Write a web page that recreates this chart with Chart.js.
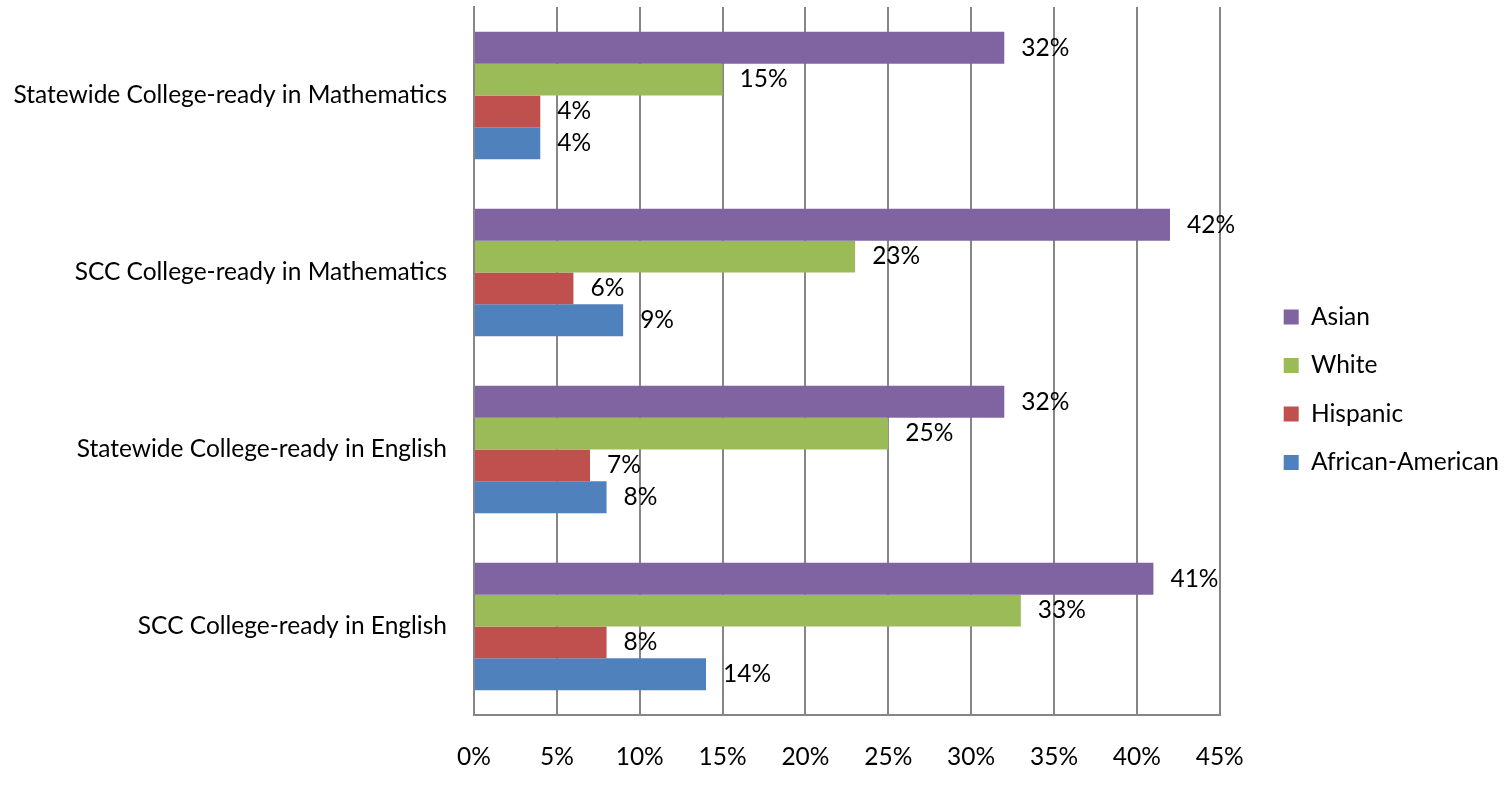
<!DOCTYPE html>
<html>
<head>
<meta charset="utf-8">
<script src="https://cdn.jsdelivr.net/npm/chart.js@4/dist/chart.umd.min.js"></script>
<style>
  html, body { margin: 0; padding: 0; background: #fff; }
  #wrap { width: 1510px; height: 800px; }
</style>
</head>
<body>
<div id="wrap"><canvas id="chart"></canvas></div>
<script>
// Categories, top to bottom
const categories = [
  "Statewide College-ready in Mathematics",
  "SCC College-ready in Mathematics",
  "Statewide College-ready in English",
  "SCC College-ready in English"
];

// Series values (percent)
const asian    = [32, 42, 32, 41];
const white    = [15, 23, 25, 33];
const hispanic = [4, 6, 7, 8];
const africanAmerican = [4, 9, 8, 14];

const seriesNames = ["Asian", "White", "Hispanic", "African-American"];
const tickLabels = ["0%", "5%", "10%", "15%", "20%", "25%", "30%", "35%", "40%", "45%"];

const FS = 24.5;
const FONT = "Lato, 'Open Sans', sans-serif";
const GRID = '#868686';

// etiquetas de valor a la derecha de cada barra
const valueLabels = {
  id: 'valueLabels',
  afterDatasetsDraw(chart) {
    const ctx = chart.ctx;
    ctx.save();
    ctx.font = FS + 'px ' + FONT;
    ctx.fillStyle = '#000';
    ctx.textAlign = 'left';
    ctx.textBaseline = 'middle';
    chart.data.datasets.forEach((ds, i) => {
      chart.getDatasetMeta(i).data.forEach((bar, j) => {
        ctx.fillText(ds.data[j] + '%', bar.x + 17, bar.y);
      });
    });
    ctx.restore();
  }
};

const ctx = document.getElementById('chart').getContext('2d');
new Chart(ctx, {
  type: 'bar',
  data: {
    labels: categories,
    datasets: [
      { label: seriesNames[0], data: asian, backgroundColor: '#8064A2' },
      { label: seriesNames[1], data: white, backgroundColor: '#9BBB59' },
      { label: seriesNames[2], data: hispanic, backgroundColor: '#C0504D' },
      { label: seriesNames[3], data: africanAmerican, backgroundColor: '#4F81BD' }
    ]
  },
  options: {
    indexAxis: 'y',
    responsive: true,
    maintainAspectRatio: false,
    animation: false,
    layout: { padding: { top: 7, bottom: 27.5, left: 0, right: 1 } },
    datasets: { bar: { categoryPercentage: 0.72, barPercentage: 1.0 } },
    plugins: {
      tooltip: { enabled: false },
      legend: {
        position: 'right',
        labels: {
          boxWidth: 15,
          boxHeight: 15,
          padding: 24,
          color: '#000',
          font: { family: FONT, size: FS }
        }
      }
    },
    scales: {
      x: {
        min: 0,
        max: 45,
        ticks: {
          stepSize: 5,
          padding: 27,
          color: '#000',
          font: { family: FONT, size: FS },
          callback: (v, i) => tickLabels[i]
        },
        grid: { color: GRID, lineWidth: 2, drawTicks: false },
        border: { color: GRID, width: 2 },
        afterFit: s => { s.height = 57.5; }
      },
      y: {
        ticks: {
          padding: 27,
          color: '#000',
          font: { family: FONT, size: FS }
        },
        grid: { display: false, drawTicks: false },
        border: { color: GRID, width: 2 },
        afterFit: s => { s.width = 474; s.paddingTop = 0; s.paddingBottom = 0; }
      },
      gap: {
        type: 'linear',
        axis: 'y',
        position: 'right',
        grid: { display: false, drawTicks: false },
        ticks: { display: false },
        border: { display: false },
        afterFit: s => { s.width = 40; }
      }
    }
  },
  plugins: [valueLabels]
});
</script>
</body>
</html>
